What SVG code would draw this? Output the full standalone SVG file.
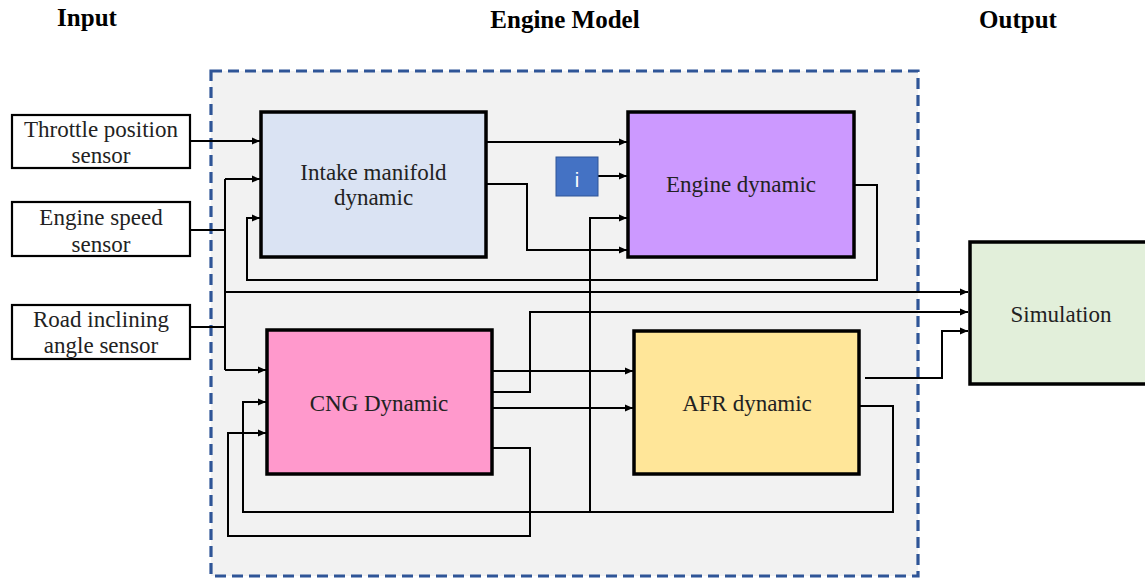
<svg xmlns="http://www.w3.org/2000/svg" width="1145" height="578" viewBox="0 0 1145 578">
<defs>
<marker id="arr" markerUnits="userSpaceOnUse" markerWidth="9" markerHeight="8" refX="8" refY="4" orient="auto">
<path d="M0,0.5 L8,4 L0,7.5 z" fill="#000"/>
</marker>
<style>
.title{font-family:"Liberation Serif",serif;font-weight:bold;font-size:25px;fill:#000;text-anchor:middle}
.lbl{font-family:"Liberation Serif",serif;font-size:23px;fill:#222;text-anchor:middle}
.sens{fill:#fff;stroke:#000;stroke-width:2.2}
.blk{stroke:#000;stroke-width:3.5}
.c{fill:none;stroke:#000;stroke-width:2}
.ca{fill:none;stroke:#000;stroke-width:2;marker-end:url(#arr)}
</style>
</defs>
<rect width="1145" height="578" fill="#fff"/>
<text class="title" x="87" y="26">Input</text>
<text class="title" x="565" y="28">Engine Model</text>
<text class="title" x="1018" y="28">Output</text>
<g id="engine-model">
<rect x="211" y="71" width="707" height="505" fill="#f2f2f2" stroke="#2f5597" stroke-width="3.2" stroke-dasharray="11,6"/>
</g>
<g id="throttle">
<rect class="sens" x="12" y="115" width="178" height="53"/>
<text class="lbl" x="101" y="137">Throttle position</text>
<text class="lbl" x="101" y="163">sensor</text>
</g>
<g id="speed">
<rect class="sens" x="12" y="202" width="178" height="54"/>
<text class="lbl" x="101" y="225">Engine speed</text>
<text class="lbl" x="101" y="252">sensor</text>
</g>
<g id="road">
<rect class="sens" x="12" y="305" width="178" height="54"/>
<text class="lbl" x="101" y="327">Road inclining</text>
<text class="lbl" x="101" y="353">angle sensor</text>
</g>
<g id="connectors">
<path class="ca" d="M190,141 H260"/>
<path class="c" d="M190,230 H225"/>
<path class="c" d="M190,327 H225"/>
<path class="c" d="M225,179 V370"/>
<path class="ca" d="M225,179 H260"/>
<path class="ca" d="M225,370 H266"/>
<path class="ca" d="M225,292 H968"/>
<path class="ca" d="M854,185 H877 V280 H247 V218 H260"/>
<path class="ca" d="M486,142 H627"/>
<path class="ca" d="M486,184 H527 V250 H627"/>
<path class="ca" d="M598,176 H627"/>
<path class="ca" d="M590,512 V218 H627"/>
<path class="ca" d="M859,406 H893 V512 H243 V402 H266"/>
<path class="ca" d="M492,371 H633"/>
<path class="ca" d="M492,408 H633"/>
<path class="ca" d="M492,392 H530 V312 H968"/>
<path class="ca" d="M492,448 H530 V536 H228 V433 H266"/>
<path class="ca" d="M865,378 H942 V331 H968"/>
</g>
<g id="intake">
<rect class="blk" x="261" y="112" width="225" height="145" fill="#dae3f3"/>
<text class="lbl" x="373.5" y="180">Intake manifold</text>
<text class="lbl" x="373.5" y="205">dynamic</text>
</g>
<g id="engine">
<rect class="blk" x="628" y="112" width="226" height="145" fill="#cc99ff"/>
<text class="lbl" x="741" y="192">Engine dynamic</text>
</g>
<g id="info">
<rect x="556" y="157" width="42" height="39" fill="#4472c4" stroke="#2f5597" stroke-width="1"/>
<text x="577" y="187" font-family="Liberation Sans, sans-serif" font-size="20" fill="#fff" text-anchor="middle">i</text>
</g>
<g id="cng">
<rect class="blk" x="267" y="330" width="225" height="144" fill="#ff99cc"/>
<text class="lbl" x="379" y="411">CNG Dynamic</text>
</g>
<g id="afr">
<rect class="blk" x="634" y="331" width="225" height="143" fill="#ffe699"/>
<text class="lbl" x="747" y="411">AFR dynamic</text>
</g>
<g id="simulation">
<rect class="blk" x="970" y="242" width="180" height="142" fill="#e2efda"/>
<text class="lbl" x="1061" y="322">Simulation</text>
</g>
</svg>
